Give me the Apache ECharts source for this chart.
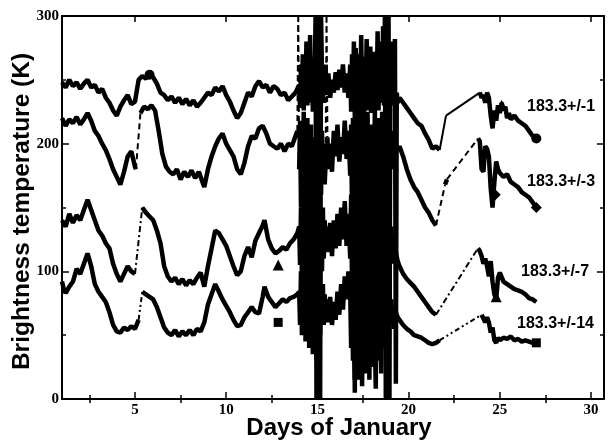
<!DOCTYPE html>
<html>
<head>
<meta charset="utf-8">
<script src="https://cdn.jsdelivr.net/npm/echarts@6/dist/echarts.min.js"></script>
<style>
  html, body { margin: 0; padding: 0; background: #fff; }
  #main { width: 608px; height: 445px; }
</style>
</head>
<body>
<div id="main"></div>
<script>
// [day, Tb] pairs, null = data gap (drawn as thin connector in the channel's dash style)
const ch1 = [[1.0,248],[1.2,244],[1.4,250],[1.6,245],[1.8,248],[2.0,243],[2.2,247],[2.4,250],[2.6,244],[2.8,246],[3.0,240],[3.2,243],[3.4,236],[3.6,232],[3.8,226],[4.0,222],[4.2,229],[4.4,234],[4.6,238],[4.8,231],[5.0,233],[5.2,250],[5.4,253],[5.6,251],[5.8,254],[6.0,252],[6.2,247],[6.4,240],[6.6,238],[6.8,234],[7.0,237],[7.2,232],[7.4,236],[7.6,231],[7.8,235],[8.0,230],[8.2,234],[8.4,229],[8.6,232],[8.8,236],[9.0,240],[9.2,238],[9.4,244],[9.6,241],[9.8,245],[10.0,238],[10.2,233],[10.4,226],[10.6,220],[10.8,224],[11.0,232],[11.2,240],[11.4,237],[11.6,245],[11.8,249],[12.0,244],[12.2,246],[12.4,240],[12.6,245],[12.8,243],[13.0,238],[13.2,240],[13.4,234],[13.6,237],[13.8,240],[14.0,246],
  [14.05,228],[14.1,262],[14.15,235],[14.2,270],[14.25,226],[14.3,258],[14.35,240],[14.4,280],[14.45,230],[14.5,265],[14.55,238],[14.6,285],[14.65,232],[14.7,268],[14.75,225],[14.8,262],[14.85,245],[14.9,300],[14.95,0],[15.0,300],[15.05,0],[15.1,300],[15.15,0],[15.2,300],[15.25,255],[15.3,232],[15.35,258],[15.4,240],[15.45,262],
  [15.5,238],[15.6,255],[15.7,236],[15.8,250],[15.9,240],[16.0,256],[16.1,242],[16.2,258],[16.3,244],[16.4,262],[16.5,240],[16.6,255],[16.7,236],[16.8,262],
  [16.85,225],[16.9,270],[16.95,232],[17.0,280],[17.05,220],[17.1,275],[17.15,230],[17.2,265],[17.25,215],[17.3,270],[17.35,235],[17.4,285],[17.45,228],[17.5,262],[17.55,220],[17.6,268],[17.65,240],[17.7,282],[17.75,226],[17.8,264],[17.85,232],[17.9,276],[17.95,224],[18.0,260],[18.05,236],[18.1,272],[18.15,228],[18.2,266],[18.25,238],[18.3,288],[18.35,226],[18.4,270],[18.45,232],[18.5,280],[18.55,236],[18.6,292],[18.65,230],[18.7,300],[18.75,0],[18.8,300],[18.85,0],[18.9,300],[18.95,0],[19.0,280],[19.05,236],[19.1,262],[19.15,230],[19.2,255],[19.25,282],[19.3,12],[19.35,240],[19.4,232],[19.5,236],
  [19.7,232],[19.9,228],[20.1,224],[20.3,220],[20.5,216],[20.7,214],[20.9,208],[21.1,203],[21.3,196],[21.5,198],[21.7,195],null,[22.05,222],null,
  [23.9,240],[24.0,236],[24.1,238],[24.2,232],[24.3,240],[24.4,236],[24.5,222],[24.6,212],[24.7,226],[24.8,218],[24.9,230],[25.0,224],[25.1,232],[25.2,226],[25.3,229],[25.4,220],[25.5,224],[25.6,219],[25.8,222],[26.0,218],[26.2,216],[26.4,214],[26.6,210],[26.8,206],[27.0,204]];

const ch3 = [[1.0,220],[1.2,214],[1.4,219],[1.6,216],[1.8,221],[2.0,215],[2.2,219],[2.4,224],[2.6,218],[2.8,210],[3.0,206],[3.2,200],[3.4,195],[3.6,188],[3.8,180],[4.0,174],[4.2,168],[4.4,178],[4.6,190],[4.8,194],[5.0,182],[5.05,180],null,
  [5.3,224],[5.5,229],[5.7,227],[5.9,230],[6.1,226],[6.3,210],[6.5,192],[6.7,182],[6.9,178],[7.1,176],[7.3,180],[7.5,172],[7.7,178],[7.9,174],[8.1,179],[8.3,173],[8.5,178],[8.7,170],[8.8,166],[9.0,180],[9.2,190],[9.4,198],[9.6,204],[9.8,208],[10.0,200],[10.2,195],[10.4,190],[10.6,180],[10.8,176],[11.0,185],[11.2,198],[11.4,206],[11.6,204],[11.8,212],[12.0,214],[12.2,208],[12.4,200],[12.6,198],[12.8,196],[13.0,200],[13.2,194],[13.4,200],[13.6,198],[13.8,206],[13.9,210],null,[13.95,300],null,
  [14.0,180],[14.05,218],[14.1,150],[14.15,210],[14.2,165],[14.25,225],[14.3,140],[14.35,205],[14.4,170],[14.45,220],[14.5,145],[14.55,200],[14.6,130],[14.65,215],[14.7,160],[14.75,205],[14.8,135],[14.85,195],[14.9,150],[14.95,210],[15.0,100],[15.05,190],[15.1,140],[15.15,205],[15.2,160],[15.25,210],[15.3,175],[15.35,200],[15.4,168],[15.45,185],null,[15.5,300],null,
  [15.55,205],[15.6,180],[15.7,200],[15.8,178],[15.9,210],[16.0,190],[16.1,215],[16.2,186],[16.3,205],[16.4,192],[16.5,218],[16.6,188],[16.7,210],[16.8,175],
  [16.85,215],[16.9,140],[16.95,220],[17.0,130],[17.05,210],[17.1,150],[17.15,225],[17.2,120],[17.25,200],[17.3,160],[17.35,230],[17.4,135],[17.45,210],[17.5,150],[17.55,220],[17.6,125],[17.65,205],[17.7,165],[17.75,225],[17.8,140],[17.85,200],[17.9,155],[17.95,215],[18.0,130],[18.05,210],[18.1,160],[18.15,228],[18.2,120],[18.25,205],[18.3,150],[18.35,220],[18.4,140],[18.45,210],[18.5,165],[18.55,225],[18.6,135],[18.65,205],[18.7,170],[18.75,215],[18.8,150],[18.85,210],[18.9,175],[18.95,205],[19.0,185],[19.05,210],[19.1,180],[19.15,205],[19.2,188],[19.3,200],[19.4,195],[19.5,198],
  [19.7,190],[19.9,180],[20.1,172],[20.3,166],[20.5,162],[20.7,156],[20.9,150],[21.1,146],[21.3,140],[21.5,136],null,[22.0,168],[22.1,172],null,
  [23.8,204],[23.9,202],[24.0,180],[24.1,178],[24.2,198],[24.3,196],[24.4,190],[24.5,165],[24.6,150],[24.7,170],[24.8,186],[24.9,180],[25.0,177],[25.2,174],[25.4,176],[25.6,170],[25.8,168],[26.0,166],[26.2,162],[26.4,160],[26.6,158],[26.8,154],[27.0,150]];

const ch7 = [[1.0,140],[1.2,135],[1.4,145],[1.6,138],[1.8,144],[2.0,140],[2.2,148],[2.4,156],[2.6,148],[2.8,140],[3.0,132],[3.2,128],[3.4,122],[3.6,118],[3.8,106],[4.0,98],[4.2,92],[4.4,98],[4.6,104],[4.8,100],[5.0,98],null,
  [5.4,150],[5.6,146],[5.8,143],[6.0,140],[6.2,132],[6.4,122],[6.6,104],[6.8,96],[7.0,92],[7.2,95],[7.4,90],[7.6,94],[7.8,89],[8.0,93],[8.2,90],[8.4,95],[8.6,99],[8.8,88],[9.0,104],[9.2,118],[9.4,132],[9.6,130],[9.8,125],[10.0,120],[10.2,112],[10.4,104],[10.6,97],[10.8,100],[11.0,112],[11.2,119],[11.4,111],[11.6,124],[11.8,130],[12.0,136],[12.1,140],[12.3,125],[12.5,118],[12.7,114],[12.9,116],[13.1,119],[13.3,117],[13.5,122],[13.7,125],[13.9,130],[14.0,135],
  [14.05,105],[14.1,150],[14.15,95],[14.2,160],[14.25,110],[14.3,165],[14.35,90],[14.4,145],[14.45,100],[14.5,170],[14.55,85],[14.6,150],[14.65,110],[14.7,160],[14.75,80],[14.8,140],[14.85,95],[14.9,155],[14.95,70],[15.0,130],[15.05,60],[15.1,135],[15.15,85],[15.2,145],[15.25,100],[15.3,150],[15.35,110],[15.4,140],[15.45,120],
  [15.5,135],[15.6,115],[15.7,138],[15.8,112],[15.9,140],[16.0,118],[16.1,145],[16.2,120],[16.3,150],[16.4,125],[16.5,155],[16.6,120],[16.7,145],[16.8,110],
  [16.85,160],[16.9,85],[16.95,150],[17.0,60],[17.05,15],[17.1,165],[17.15,90],[17.2,170],[17.25,70],[17.3,160],[17.35,95],[17.4,175],[17.45,60],[17.5,155],[17.55,85],[17.6,170],[17.65,100],[17.7,160],[17.75,70],[17.8,150],[17.85,95],[17.9,165],[17.95,80],[18.0,155],[18.05,60],[18.1,150],[18.15,90],[18.2,25],[18.25,160],[18.3,85],[18.35,155],[18.4,100],[18.45,165],[18.5,75],[18.55,150],[18.6,95],[18.65,160],[18.7,85],[18.75,145],[18.8,100],[18.85,150],[18.9,105],[18.95,140],[19.0,110],[19.05,135],[19.1,112],[19.15,128],[19.2,106],[19.3,115],[19.4,108],[19.5,104],
  [19.7,98],[19.9,94],[20.1,91],[20.3,88],[20.5,84],[20.7,80],[20.9,76],[21.1,72],[21.3,68],[21.5,66],null,
  [23.8,118],[23.9,116],[24.0,112],[24.1,106],[24.2,110],[24.3,104],[24.4,96],[24.5,108],[24.6,92],[24.7,82],[24.8,78],[24.9,95],[25.0,99],[25.2,92],[25.4,90],[25.6,88],[25.8,86],[26.0,85],[26.2,84],[26.4,82],[26.6,79],[26.8,78],[27.0,76]];

const ch14 = [[1.0,92],[1.1,86],[1.2,83],[1.4,88],[1.6,92],[1.8,102],[2.0,98],[2.2,106],[2.4,114],[2.6,104],[2.8,90],[3.0,84],[3.2,80],[3.4,76],[3.6,68],[3.8,58],[4.0,53],[4.2,52],[4.4,56],[4.6,54],[4.8,57],[5.0,55],[5.2,62],null,
  [5.4,84],[5.6,82],[5.8,80],[6.0,78],[6.2,72],[6.4,64],[6.6,56],[6.8,52],[7.0,50],[7.2,54],[7.4,49],[7.6,53],[7.8,50],[8.0,54],[8.2,50],[8.4,55],[8.6,53],[8.8,60],[9.0,74],[9.2,82],[9.4,90],[9.6,84],[9.8,78],[10.0,73],[10.2,68],[10.4,62],[10.6,57],[10.8,58],[11.0,64],[11.2,68],[11.4,72],[11.6,68],[11.8,67],[12.0,80],[12.1,88],[12.3,80],[12.5,76],[12.7,72],[12.9,75],[13.1,78],[13.3,76],[13.5,79],[13.7,80],[13.9,82],[14.0,84],
  [14.05,58],[14.1,100],[14.15,50],[14.2,105],[14.25,62],[14.3,110],[14.35,45],[14.4,95],[14.45,55],[14.5,108],[14.55,40],[14.6,90],[14.65,60],[14.7,100],[14.75,35],[14.8,85],[14.85,50],[14.9,95],[14.95,30],[15.0,80],[15.05,40],[15.1,88],[15.15,50],[15.2,85],[15.25,60],[15.3,90],[15.35,58],[15.4,82],[15.45,64],
  [15.5,78],[15.6,60],[15.7,80],[15.8,58],[15.9,76],[16.0,62],[16.1,84],[16.2,66],[16.3,90],[16.4,70],[16.5,96],[16.6,78],[16.7,100],[16.8,82],
  [16.85,40],[16.9,100],[16.95,30],[17.0,95],[17.05,5],[17.1,105],[17.15,25],[17.2,98],[17.25,15],[17.3,110],[17.35,35],[17.4,100],[17.45,10],[17.5,95],[17.55,40],[17.6,108],[17.65,20],[17.7,100],[17.75,35],[17.8,105],[17.85,15],[17.9,95],[17.95,40],[18.0,110],[18.05,25],[18.1,100],[18.15,45],[18.2,8],[18.25,98],[18.3,30],[18.35,105],[18.4,45],[18.45,100],[18.5,20],[18.55,95],[18.6,40],[18.65,92],[18.7,50],[18.75,88],[18.8,45],[18.85,85],[18.9,55],[18.95,80],[19.0,60],[19.05,78],[19.1,58],[19.15,72],[19.2,55],[19.3,68],[19.4,64],[19.5,62],
  [19.7,58],[19.9,55],[20.1,53],[20.3,50],[20.5,49],[20.7,48],[20.9,46],[21.1,44],[21.3,43],[21.5,44],[21.7,46],null,
  [24.0,66],[24.1,67],[24.2,60],[24.3,64],[24.4,60],[24.5,52],[24.6,56],[24.7,46],[24.8,44],[24.9,48],[25.0,46],[25.2,48],[25.4,47],[25.6,49],[25.8,46],[26.0,47],[26.2,45],[26.4,46],[26.6,45],[26.8,44],[27.0,44]];

// isolated symbols
const circleMarks = [[5.8,254],[27.0,204]];
const diamondMarks = [[24.75,160],[27.0,150]];
const triangleMarks = [[12.85,105],[24.8,80],[25.1,230]];
const squareMarks = [[12.85,60],[27.0,44]];

const channelLabels = ['183.3+/-1', '183.3+/-3', '183.3+/-7', '183.3+/-14'];
const majorDays = [5, 10, 15, 20, 25, 30];
const minorDays = [2.5, 7.5, 12.5, 17.5, 22.5, 27.5];

const chart = echarts.init(document.getElementById('main'));

function dense(arr) {
  return arr.map((p, i) => p === null ? [arr[i - 1][0], '-'] : p);
}
function gaps(arr) {
  const out = [];
  arr.forEach((p, i) => {
    if (p === null) {
      out.push(arr[i - 1], arr[i + 1], [arr[i + 1][0], '-']);
    }
  });
  return out;
}

const channels = [
  { data: ch1, dash: 'solid' },
  { data: ch3, dash: [6, 4] },
  { data: ch7, dash: [6, 3, 2, 3] },
  { data: ch14, dash: [5, 3, 2, 3, 2, 3] }
];

const series = [];
channels.forEach(c => {
  series.push({
    type: 'line', data: dense(c.data), showSymbol: false, connectNulls: false,
    lineStyle: { color: '#000', width: 4.5, join: 'bevel' }, silent: true
  });
  series.push({
    type: 'line', data: gaps(c.data), showSymbol: false, connectNulls: false,
    lineStyle: { color: '#000', width: 2, type: c.dash }, silent: true
  });
});
[[circleMarks, 'circle', 10], [diamondMarks, 'diamond', 11], [triangleMarks, 'triangle', 11], [squareMarks, 'rect', 9]]
  .forEach(([d, sym, size]) => {
    series.push({ type: 'scatter', data: d, symbol: sym, symbolSize: size, itemStyle: { color: '#000', opacity: 1 }, silent: true });
  });

const tickFont = { fontFamily: 'Liberation Serif', fontWeight: 'bold', fontSize: 15, color: '#000' };
const line = { show: true, onZero: false, lineStyle: { color: '#000', width: 2 } };

const option = {
  animation: false,
  backgroundColor: '#fff',
  grid: { left: 62, right: 4, top: 16, bottom: 46, outerBoundsMode: 'none', containLabel: false },
  xAxis: [
    {
      type: 'value', min: 1, max: 30.71, position: 'bottom',
      axisLine: line,
      axisTick: { inside: true, length: 7, customValues: majorDays, lineStyle: { color: '#000', width: 1.5 } },
      axisLabel: { customValues: majorDays, margin: 4, ...tickFont },
      splitLine: { show: false },
      name: 'Days of January', nameLocation: 'middle', nameGap: 17, nameMoveOverlap: false,
      nameTextStyle: { fontFamily: 'Liberation Sans', fontWeight: 'bold', fontSize: 24, color: '#000', padding: [0, 0, 0, 12] }
    },
    {
      type: 'value', min: 1, max: 30.71, position: 'bottom',
      axisLine: { show: false },
      axisTick: { inside: true, length: 4, customValues: minorDays, lineStyle: { color: '#000', width: 1.5 } },
      axisLabel: { show: false }, splitLine: { show: false }
    },
    {
      type: 'value', min: 1, max: 30.71, position: 'top',
      axisLine: line,
      axisTick: { inside: true, length: 6, customValues: majorDays, lineStyle: { color: '#000', width: 1.5 } },
      axisLabel: { show: false }, splitLine: { show: false }
    },
    {
      type: 'value', min: 1, max: 30.71, position: 'top',
      axisLine: { show: false },
      axisTick: { inside: true, length: 4, customValues: minorDays, lineStyle: { color: '#000', width: 1.5 } },
      axisLabel: { show: false }, splitLine: { show: false }
    }
  ],
  yAxis: [
    {
      type: 'value', min: 0, max: 300, interval: 100, position: 'left',
      axisLine: line,
      axisTick: { inside: true, length: 7, lineStyle: { color: '#000', width: 1.5 } },
      minorTick: { show: true, splitNumber: 2, length: 4, lineStyle: { color: '#000', width: 1.5 } },
      axisLabel: { margin: 3, ...tickFont },
      splitLine: { show: false },
      name: 'Brightness temperature (K)', nameLocation: 'middle', nameGap: 27, nameMoveOverlap: false,
      nameTextStyle: { fontFamily: 'Liberation Sans', fontWeight: 'bold', fontSize: 24.5, color: '#000', padding: [0, 0, 0, -8] }
    },
    {
      type: 'value', min: 0, max: 300, interval: 100, position: 'right',
      axisLine: line,
      axisTick: { inside: true, length: 7, lineStyle: { color: '#000', width: 1.5 } },
      minorTick: { show: true, splitNumber: 2, length: 4, lineStyle: { color: '#000', width: 1.5 } },
      axisLabel: { show: false }, splitLine: { show: false }
    }
  ],
  graphic: [
    { type: 'text', left: 527, top: 99, style: { text: channelLabels[0], font: 'bold 16px "Liberation Sans"', fill: '#000' } },
    { type: 'text', left: 527, top: 174, style: { text: channelLabels[1], font: 'bold 16px "Liberation Sans"', fill: '#000' } },
    { type: 'text', left: 521, top: 264, style: { text: channelLabels[2], font: 'bold 16px "Liberation Sans"', fill: '#000' } },
    { type: 'text', left: 517, top: 316, style: { text: channelLabels[3], font: 'bold 16px "Liberation Sans"', fill: '#000' } }
  ],
  series: series
};

chart.setOption(option);
</script>
</body>
</html>
